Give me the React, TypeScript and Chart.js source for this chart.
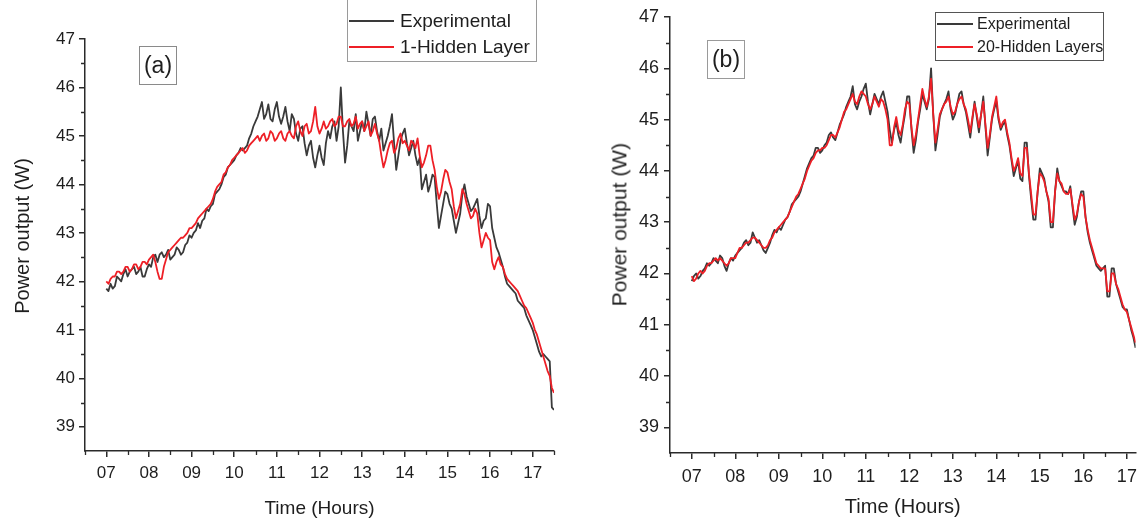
import React, { useEffect, useRef } from "react";
import { Chart, registerables } from "chart.js";

Chart.register(...registerables);

// ---------------- data ----------------
const timeA = [
  7.0,7.05,7.1,7.15,7.2,7.25,7.3,7.35,7.4,7.45,
  7.5,7.55,7.6,7.65,7.7,7.75,7.8,7.85,7.9,7.95,
  8.0,8.05,8.1,8.15,8.2,8.25,8.3,8.35,8.4,8.45,
  8.5,8.55,8.6,8.65,8.7,8.75,8.8,8.85,8.9,8.95,
  9.0,9.05,9.1,9.15,9.2,9.25,9.3,9.35,9.4,9.45,
  9.5,9.55,9.6,9.65,9.7,9.75,9.8,9.85,9.9,9.95,
  10.0,10.05,10.1,10.15,10.2,10.25,10.3,10.35,10.4,10.45,
  10.5,10.55,10.6,10.65,10.7,10.75,10.8,10.85,10.9,10.95,
  11.0,11.05,11.1,11.15,11.2,11.25,11.3,11.35,11.4,11.45,
  11.5,11.55,11.6,11.65,11.7,11.75,11.8,11.85,11.9,11.95,
  12.0,12.05,12.1,12.15,12.2,12.25,12.3,12.35,12.4,12.45,
  12.5,12.55,12.6,12.65,12.7,12.75,12.8,12.85,12.9,12.95,
  13.0,13.05,13.1,13.15,13.2,13.25,13.3,13.35,13.4,13.45,
  13.5,13.55,13.6,13.65,13.7,13.75,13.8,13.85,13.9,13.95,
  14.0,14.05,14.1,14.15,14.2,14.25,14.3,14.35,14.4,14.45,
  14.5,14.55,14.6,14.65,14.7,14.75,14.8,14.85,14.9,14.95,
  15.0,15.05,15.1,15.15,15.2,15.25,15.3,15.35,15.4,15.45,
  15.5,15.55,15.6,15.65,15.7,15.75,15.8,15.85,15.9,15.95,
  16.0,16.05,16.1,16.15,16.2,16.25,16.3,16.35,16.4,16.45,
  16.5,16.55,16.6,16.65,16.7,16.75,16.8,16.85,16.9,16.95,
  17.0,17.05,17.1,17.15,17.2,17.25,17.3,17.35,17.4,17.45,
  17.5
];

const experimentalA = [
  41.85,41.8,41.95,41.85,41.9,42.1,42.05,42.0,42.15,42.25,
  42.1,42.2,42.25,42.3,42.15,42.2,42.3,42.1,42.1,42.25,
  42.35,42.3,42.5,42.55,42.4,42.55,42.6,42.5,42.55,42.65,
  42.45,42.5,42.55,42.7,42.65,42.55,42.6,42.75,42.8,42.95,
  42.9,43.0,43.05,43.2,43.1,43.25,43.3,43.5,43.45,43.55,
  43.6,43.8,43.85,43.9,44.0,44.15,44.2,44.35,44.4,44.45,
  44.5,44.6,44.65,44.75,44.7,44.75,44.8,44.95,45.05,45.2,
  45.3,45.4,45.55,45.7,45.35,45.45,45.65,45.35,45.3,45.55,
  45.7,45.4,45.25,45.4,45.6,45.3,45.1,45.45,45.35,45.05,
  44.9,45.15,45.2,44.85,44.6,44.8,44.9,44.55,44.35,44.6,
  44.8,44.55,44.4,44.85,45.1,44.95,45.2,45.3,44.9,45.2,
  46.0,45.1,44.45,44.8,45.3,45.2,45.1,45.45,44.9,45.1,
  45.3,45.1,45.5,45.25,45.0,45.35,45.4,45.1,44.9,45.15,
  44.7,44.85,45.0,45.2,45.45,44.85,44.3,44.6,44.9,45.05,
  45.15,44.85,44.6,44.75,44.9,44.6,44.4,44.55,43.9,44.05,
  44.2,43.85,44.0,44.2,44.15,43.6,43.1,43.35,43.6,43.85,
  43.8,43.6,43.5,43.25,43.0,43.2,43.4,43.8,44.0,43.75,
  43.6,43.45,43.5,43.6,43.7,43.35,43.1,43.25,43.3,43.6,
  43.55,43.1,42.9,42.7,42.6,42.45,42.3,42.1,41.95,41.9,
  41.85,41.8,41.75,41.6,41.55,41.5,41.45,41.3,41.2,41.1,
  41.0,40.85,40.7,40.55,40.45,40.5,40.45,40.4,40.35,39.4,
  39.35
];

const hidden1A = [
  42.0,41.95,42.05,42.1,42.1,42.2,42.2,42.15,42.2,42.3,
  42.3,42.2,42.25,42.35,42.35,42.25,42.3,42.4,42.4,42.35,
  42.45,42.5,42.55,42.4,42.2,42.05,42.05,42.3,42.45,42.6,
  42.65,42.7,42.75,42.8,42.85,42.9,42.9,42.95,43.0,43.1,
  43.1,43.15,43.2,43.3,43.35,43.4,43.45,43.5,43.55,43.6,
  43.7,43.85,43.95,44.0,44.05,44.2,44.25,44.35,44.4,44.5,
  44.55,44.6,44.65,44.7,44.75,44.65,44.7,44.8,44.85,44.9,
  44.95,45.0,44.9,45.0,45.05,44.9,44.95,45.1,45.05,44.9,
  44.95,45.05,45.1,44.95,44.9,45.05,45.1,45.0,44.95,45.2,
  45.3,45.1,45.0,45.2,45.25,45.05,45.1,45.3,45.6,45.2,
  45.05,45.15,45.3,45.15,45.2,45.3,45.35,45.2,45.25,45.4,
  45.4,45.2,45.2,45.3,45.35,45.2,45.25,45.4,45.15,45.25,
  45.3,45.1,45.2,45.3,45.0,45.1,45.25,45.05,44.9,44.6,
  44.35,44.5,44.7,44.85,44.9,44.65,44.75,44.95,45.05,44.85,
  44.9,44.8,44.7,44.9,44.85,44.75,44.95,44.6,44.35,44.45,
  44.6,44.8,44.8,44.5,44.3,43.95,43.7,43.85,44.1,44.3,
  44.25,44.05,43.9,43.55,43.3,43.45,43.6,43.9,43.8,43.6,
  43.45,43.3,43.35,43.5,43.4,43.0,42.7,42.85,43.0,42.9,
  42.85,42.4,42.25,42.4,42.5,42.35,42.3,42.15,42.05,42.0,
  41.95,41.9,41.85,41.8,41.7,41.6,41.5,41.45,41.35,41.25,
  41.15,41.0,40.9,40.75,40.6,40.45,40.3,40.15,40.05,39.8,
  39.7
];

const timeB = [
  7.0,7.05,7.1,7.15,7.2,7.25,7.3,7.35,7.4,7.45,
  7.5,7.55,7.6,7.65,7.7,7.75,7.8,7.85,7.9,7.95,
  8.0,8.05,8.1,8.15,8.2,8.25,8.3,8.35,8.4,8.45,
  8.5,8.55,8.6,8.65,8.7,8.75,8.8,8.85,8.9,8.95,
  9.0,9.05,9.1,9.15,9.2,9.25,9.3,9.35,9.4,9.45,
  9.5,9.55,9.6,9.65,9.7,9.75,9.8,9.85,9.9,9.95,
  10.0,10.05,10.1,10.15,10.2,10.25,10.3,10.35,10.4,10.45,
  10.5,10.55,10.6,10.65,10.7,10.75,10.8,10.85,10.9,10.95,
  11.0,11.05,11.1,11.15,11.2,11.25,11.3,11.35,11.4,11.45,
  11.5,11.55,11.6,11.65,11.7,11.75,11.8,11.85,11.9,11.95,
  12.0,12.05,12.1,12.15,12.2,12.25,12.3,12.35,12.4,12.45,
  12.5,12.55,12.6,12.65,12.7,12.75,12.8,12.85,12.9,12.95,
  13.0,13.05,13.1,13.15,13.2,13.25,13.3,13.35,13.4,13.45,
  13.5,13.55,13.6,13.65,13.7,13.75,13.8,13.85,13.9,13.95,
  14.0,14.05,14.1,14.15,14.2,14.25,14.3,14.35,14.4,14.45,
  14.5,14.55,14.6,14.65,14.7,14.75,14.8,14.85,14.9,14.95,
  15.0,15.05,15.1,15.15,15.2,15.25,15.3,15.35,15.4,15.45,
  15.5,15.55,15.6,15.65,15.7,15.75,15.8,15.85,15.9,15.95,
  16.0,16.05,16.1,16.15,16.2,16.25,16.3,16.35,16.4,16.45,
  16.5,16.55,16.6,16.65,16.7,16.75,16.8,16.85,16.9,16.95,
  17.0,17.05,17.1,17.15,17.2
];

const experimentalB = [
  41.85,41.95,42.0,41.9,41.95,42.05,42.1,42.2,42.15,42.2,
  42.3,42.25,42.2,42.35,42.3,42.15,42.05,42.2,42.3,42.25,
  42.35,42.4,42.45,42.5,42.6,42.65,42.55,42.6,42.8,42.7,
  42.6,42.65,42.55,42.45,42.4,42.5,42.6,42.75,42.85,42.8,
  42.9,42.85,42.95,43.05,43.1,43.2,43.35,43.4,43.45,43.5,
  43.6,43.75,43.9,44.05,44.15,44.25,44.3,44.45,44.45,44.35,
  44.4,44.5,44.55,44.7,44.75,44.65,44.6,44.75,44.9,45.0,
  45.1,45.25,45.35,45.45,45.65,45.3,45.2,45.35,45.45,45.6,
  45.7,45.35,45.1,45.3,45.5,45.4,45.3,45.45,45.55,45.35,
  45.15,44.8,44.55,44.8,44.95,44.7,44.55,44.85,45.1,45.45,
  45.45,44.8,44.35,44.6,44.95,45.2,45.5,45.35,45.2,45.4,
  46.0,45.1,44.4,44.7,45.05,45.2,45.3,45.4,45.55,45.2,
  45.0,45.1,45.3,45.5,45.55,45.3,45.15,44.9,44.65,45.0,
  45.35,45.05,44.75,45.1,45.45,44.85,44.3,44.65,45.0,45.2,
  45.35,45.0,44.8,44.9,44.95,44.7,44.5,44.2,43.9,44.05,
  44.2,43.85,43.8,44.55,44.55,43.9,43.45,43.05,43.05,43.6,
  44.05,43.95,43.85,43.6,43.4,42.9,42.9,43.6,44.05,43.8,
  43.7,43.6,43.6,43.55,43.7,43.3,42.95,43.1,43.4,43.6,
  43.6,43.1,42.8,42.6,42.45,42.3,42.15,42.1,42.05,42.1,
  42.15,41.55,41.55,42.1,42.1,41.8,41.65,41.5,41.35,41.3,
  41.3,41.1,40.9,40.75,40.55
];

const hidden20B = [
  41.95,41.85,41.9,42.0,42.05,42.0,42.05,42.15,42.2,42.2,
  42.25,42.3,42.25,42.3,42.25,42.2,42.15,42.2,42.3,42.3,
  42.3,42.4,42.5,42.5,42.55,42.6,42.6,42.65,42.7,42.7,
  42.65,42.6,42.55,42.5,42.5,42.55,42.65,42.7,42.8,42.85,
  42.9,42.95,43.0,43.05,43.1,43.2,43.3,43.4,43.5,43.55,
  43.65,43.75,43.85,44.0,44.1,44.2,44.25,44.35,44.4,44.4,
  44.45,44.45,44.5,44.6,44.7,44.7,44.65,44.75,44.85,45.0,
  45.15,45.2,45.3,45.4,45.5,45.35,45.3,45.45,45.55,45.5,
  45.45,45.3,45.2,45.3,45.45,45.35,45.25,45.4,45.35,45.2,
  45.0,44.5,44.5,44.85,45.05,44.8,44.7,44.9,45.2,45.35,
  45.3,44.85,44.5,44.7,45.0,45.3,45.6,45.4,45.25,45.45,
  45.8,45.1,44.55,44.8,45.1,45.2,45.3,45.35,45.45,45.25,
  45.1,45.15,45.3,45.4,45.45,45.3,45.2,45.0,44.75,45.05,
  45.3,45.1,44.85,45.1,45.35,44.9,44.45,44.7,45.05,45.25,
  45.45,45.05,44.85,44.95,45.0,44.75,44.55,44.25,44.0,44.1,
  44.25,43.95,43.9,44.45,44.45,43.95,43.55,43.15,43.15,43.6,
  43.95,43.9,43.8,43.6,43.45,43.0,43.0,43.6,43.95,43.8,
  43.75,43.6,43.55,43.55,43.65,43.35,43.05,43.15,43.4,43.55,
  43.5,43.1,42.85,42.65,42.5,42.35,42.2,42.15,42.1,42.1,
  42.1,41.65,41.65,42.0,42.0,41.8,41.7,41.55,41.4,41.3,
  41.25,41.1,40.95,40.8,40.65
];

const xTickHours = [7, 8, 9, 10, 11, 12, 13, 14, 15, 16, 17];
const xMinorHours = [6.5, 7.5, 8.5, 9.5, 10.5, 11.5, 12.5, 13.5, 14.5, 15.5, 16.5, 17.5];
const yTickValues = [39, 40, 41, 42, 43, 44, 45, 46, 47];
const yMinorValues = [39.5, 40.5, 41.5, 42.5, 43.5, 44.5, 45.5, 46.5];

const seriesNamesA = ["Experimental", "1-Hidden Layer"];
const seriesNamesB = ["Experimental", "20-Hidden Layers"];
const panelLabels = ["(a)", "(b)"];
const xAxisTitle = "Time (Hours)";
const yAxisTitle = "Power output (W)";

// ---------------- styles ----------------
const FONT = "'Liberation Sans', Arial, sans-serif";
const BLACK = "#3a3a3a";
const RED = "#ee1f26";
const AXIS = "#2a2a2a";
const TEXT = "#1e1e1e";

const minorTicksPlugin = {
  id: "minorTicks",
  afterDraw(chart: any, _args: any, opts: any) {
    const { ctx, chartArea } = chart;
    const x = chart.scales.x;
    const y = chart.scales.y;
    ctx.save();
    ctx.strokeStyle = AXIS;
    ctx.lineWidth = 1.3;
    ctx.beginPath();
    for (const v of opts.xMinor || []) {
      if (v < x.min - 1e-9 || v > x.max + 1e-9) continue;
      const px = Math.round(x.getPixelForValue(v)) + 0.5;
      ctx.moveTo(px, chartArea.bottom);
      ctx.lineTo(px, chartArea.bottom + 4);
    }
    for (const v of opts.yMinor || []) {
      const py = Math.round(y.getPixelForValue(v)) + 0.5;
      ctx.moveTo(chartArea.left, py);
      ctx.lineTo(chartArea.left - 4, py);
    }
    ctx.stroke();
    ctx.restore();
  },
};

type PanelSpec = {
  left: number;
  width: number;
  height: number;
  padTop: number;
  padRight: number;
  yAxisWidth: number;
  xAxisHeight: number;
  xMin: number;
  xMax: number;
  yMin: number;
  yMax: number;
  tickFont: number;
  titleFont: number;
  xTickPad: number;
  yTickPad: number;
  titlePadBottom: number;
  time: number[];
  exp: number[];
  model: number[];
  names: string[];
};

const panelA: PanelSpec = {
  left: 0, width: 572, height: 527,
  padTop: 39, padRight: 18, yAxisWidth: 85, xAxisHeight: 76,
  xMin: 6.5, xMax: 17.5, yMin: 38.5, yMax: 47,
  tickFont: 17, titleFont: 19, xTickPad: 6, yTickPad: 4, titlePadBottom: 7,
  time: timeA, exp: experimentalA, model: hidden1A, names: seriesNamesA,
};

const panelB: PanelSpec = {
  left: 572, width: 572, height: 527,
  padTop: 17, padRight: 6, yAxisWidth: 98, xAxisHeight: 74,
  xMin: 6.5, xMax: 17.2, yMin: 38.5, yMax: 47,
  tickFont: 18, titleFont: 20, xTickPad: 7, yTickPad: 5, titlePadBottom: 8,
  time: timeB, exp: experimentalB, model: hidden20B, names: seriesNamesB,
};

function Panel({ spec }: { spec: PanelSpec }) {
  const ref = useRef<HTMLCanvasElement | null>(null);
  useEffect(() => {
    if (!ref.current) return;
    const chart = new Chart(ref.current, {
      type: "line",
      data: {
        datasets: [
          {
            label: spec.names[0],
            data: spec.time.map((t, i) => ({ x: t, y: spec.exp[i] })),
            borderColor: BLACK,
            borderWidth: 1.8,
            pointRadius: 0,
            borderJoinStyle: "round",
            order: 2,
          },
          {
            label: spec.names[1],
            data: spec.time.map((t, i) => ({ x: t, y: spec.model[i] })),
            borderColor: RED,
            borderWidth: 1.8,
            pointRadius: 0,
            borderJoinStyle: "round",
            order: 1,
          },
        ],
      },
      options: {
        responsive: false,
        animation: false,
        devicePixelRatio: 1,
        layout: { padding: { top: spec.padTop, right: spec.padRight, left: 0, bottom: 0 } },
        plugins: {
          legend: { display: false },
          tooltip: { enabled: false },
          minorTicks: { xMinor: xMinorHours, yMinor: yMinorValues },
        } as any,
        scales: {
          x: {
            type: "linear",
            min: spec.xMin,
            max: spec.xMax,
            afterBuildTicks: (s: any) => {
              s.ticks = xTickHours.map((v) => ({ value: v }));
            },
            afterFit: (s: any) => {
              s.height = spec.xAxisHeight;
            },
            ticks: {
              autoSkip: false,
              maxRotation: 0,
              padding: spec.xTickPad,
              color: TEXT,
              font: { family: FONT, size: spec.tickFont },
              callback: (v: any) => (Number(v) < 10 ? "0" + v : String(v)),
            },
            grid: { drawOnChartArea: false, drawTicks: true, tickLength: 6, color: AXIS, lineWidth: 1.5 },
            border: { display: true, color: AXIS, width: 1.5 },
            title: {
              display: true,
              text: xAxisTitle,
              color: TEXT,
              font: { family: FONT, size: spec.titleFont },
              padding: { top: 0, bottom: spec.titlePadBottom },
            },
          },
          y: {
            type: "linear",
            min: spec.yMin,
            max: spec.yMax,
            afterBuildTicks: (s: any) => {
              s.ticks = yTickValues.map((v) => ({ value: v }));
            },
            afterFit: (s: any) => {
              s.width = spec.yAxisWidth;
            },
            ticks: {
              autoSkip: false,
              padding: spec.yTickPad,
              color: TEXT,
              font: { family: FONT, size: spec.tickFont },
              callback: (v: any) => String(v),
            },
            grid: { drawOnChartArea: false, drawTicks: true, tickLength: 6, color: AXIS, lineWidth: 1.5 },
            border: { display: true, color: AXIS, width: 1.5 },
          },
        },
      } as any,
      plugins: [minorTicksPlugin],
    });
    return () => chart.destroy();
  }, [spec]);
  return (
    <canvas
      ref={ref}
      width={spec.width}
      height={spec.height}
      style={{ position: "absolute", left: spec.left, top: 0, width: spec.width, height: spec.height }}
    />
  );
}

type LegendSpec = {
  box: { left: number; top: number; width: number; height: number; border: string };
  lineLeft: number;
  lineWidth: number;
  textLeft: number;
  rowCenters: number[];
  font: number;
  names: string[];
};

function Legend({ spec }: { spec: LegendSpec }) {
  const colors = [BLACK, RED];
  return (
    <>
      <div
        style={{
          position: "absolute",
          left: spec.box.left,
          top: spec.box.top,
          width: spec.box.width,
          height: spec.box.height,
          border: spec.box.border,
          boxSizing: "border-box",
        }}
      />
      {spec.names.map((name, i) => (
        <React.Fragment key={name}>
          <div
            style={{
              position: "absolute",
              left: spec.lineLeft,
              top: spec.rowCenters[i] - 1,
              width: spec.lineWidth,
              height: 2,
              background: colors[i],
            }}
          />
          <div
            style={{
              position: "absolute",
              left: spec.textLeft,
              top: spec.rowCenters[i] - spec.font * 0.6,
              height: spec.font * 1.2,
              lineHeight: spec.font * 1.2 + "px",
              fontSize: spec.font,
              fontFamily: FONT,
              color: TEXT,
              whiteSpace: "nowrap",
            }}
          >
            {name}
          </div>
        </React.Fragment>
      ))}
    </>
  );
}

const legendA: LegendSpec = {
  box: { left: 347, top: -2, width: 190, height: 64, border: "1px solid #9a9a9a" },
  lineLeft: 349, lineWidth: 45, textLeft: 400, rowCenters: [21, 47], font: 19, names: seriesNamesA,
};
const legendB: LegendSpec = {
  box: { left: 935, top: 12, width: 169, height: 49, border: "1.5px solid #555" },
  lineLeft: 937, lineWidth: 36, textLeft: 977, rowCenters: [24, 47], font: 16, names: seriesNamesB,
};

function PanelLabel({ text, left, top, size, border }: { text: string; left: number; top: number; size: number; border: string }) {
  return (
    <div
      style={{
        position: "absolute",
        left,
        top,
        width: 38,
        height: 39,
        border,
        boxSizing: "border-box",
        fontFamily: FONT,
        fontSize: size,
        lineHeight: "36px",
        textAlign: "center",
        color: TEXT,
      }}
    >
      {text}
    </div>
  );
}

function YTitle({ cx, cy, size }: { cx: number; cy: number; size: number }) {
  return (
    <div
      style={{
        position: "absolute",
        left: cx - 150,
        top: cy - size * 0.6,
        width: 300,
        height: size * 1.2,
        lineHeight: size * 1.2 + "px",
        textAlign: "center",
        fontFamily: FONT,
        fontSize: size,
        color: TEXT,
        transform: "rotate(-90deg)",
        transformOrigin: "center center",
        whiteSpace: "nowrap",
      }}
    >
      {yAxisTitle}
    </div>
  );
}

export default function App() {
  return (
    <div style={{ position: "absolute", left: 0, top: 0, width: 1144, height: 527, background: "#fff", overflow: "hidden" }}>
      <Panel spec={panelA} />
      <Panel spec={panelB} />
      <YTitle cx={22} cy={236} size={20} />
      <YTitle cx={619} cy={225} size={21} />
      <Legend spec={legendA} />
      <Legend spec={legendB} />
      <PanelLabel text={panelLabels[0]} left={139} top={46} size={23} border="1.5px solid #8a8a8a" />
      <PanelLabel text={panelLabels[1]} left={707} top={40} size={23} border="1.5px solid #9a9a9a" />
    </div>
  );
}
